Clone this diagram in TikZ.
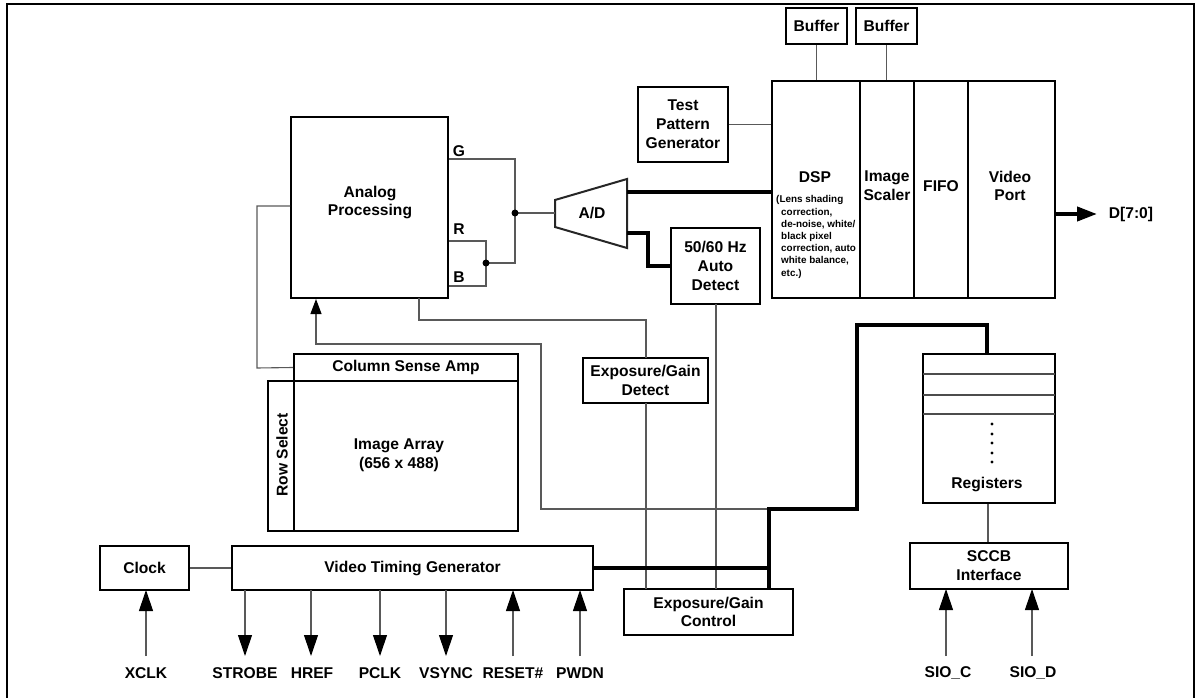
\documentclass[tikz,border=0pt]{standalone}
\usepackage{fontspec}
\setmainfont{Liberation Sans}
\usetikzlibrary{arrows.meta,calc}
\begin{document}
\begin{tikzpicture}[x=1pt,y=-1pt,
  font=\bfseries\fontsize{15.6}{18.8}\selectfont,
  box/.style={draw=black,line width=2pt,inner sep=0pt,align=center},
  lbl/.style={inner sep=0pt,align=center},
  wire/.style={draw=black!65,line width=1.1pt},
  bus/.style={draw=black,line width=4pt,line join=miter},
  tipbig/.style={-{Triangle[length=21pt,width=14pt,color=black]}},
  tipsmall/.style={-{Triangle[length=15pt,width=11pt,color=black]}},
]
\useasboundingbox (0,0) rectangle (1195,698);
\draw[line width=2pt] (7,720) -- (7,4) -- (1194,4) -- (1194,720);

% ---------- helper coordinates ----------
\coordinate (gy) at (0,159);
\coordinate (ry) at (0,241);
\coordinate (by) at (0,286);
\coordinate (ly) at (0,206);
\coordinate (jg) at (515,213);
\coordinate (jrb) at (486,263);
\coordinate (adin) at (555,213);
\coordinate (ado1) at (627,192);
\coordinate (ado2) at (627,233);
\coordinate (dtip) at (1097,214);

% ---------- Analog processing ----------
\node[box,minimum width=157pt,minimum height=181pt] (ap) at (369.5,207.5) {};
\node[lbl] (aptxt) at (370,202.5) {Analog\\Processing};
\node[lbl] (gl) at (459,151) {G};
\node[lbl] (rl) at (459,229) {R};
\node[lbl] (bl) at (459,277) {B};

% ---------- A/D ----------
\draw[line width=2pt,draw=black!85] (555,200) -- (627,179) -- (627,248) -- (555,227) -- cycle;
\node[lbl] (ad) at (592,213) {A/D};

% ---------- 50/60 Hz ----------
\node[box,minimum width=89pt,minimum height=76pt] (hz) at (715.5,266) {50/60 Hz\\Auto\\Detect};

% ---------- Buffers, TPG, DSP chain ----------
\node[box,minimum width=61pt,minimum height=36pt] (buf1) at (816.5,26) {Buffer};
\node[box,minimum width=61pt,minimum height=36pt] (buf2) at (886.5,26) {Buffer};
\node[box,minimum width=90pt,minimum height=75pt] (tpg) at (683,124.5) {Test\\Pattern\\Generator};

\node[box,minimum width=88pt,minimum height=217pt] (dsp) at (816,189.5) {};
\node[box,minimum width=54pt,minimum height=217pt] (scaler) at (887,189.5) {};
\node[box,minimum width=54pt,minimum height=217pt] (fifo) at (941,189.5) {};
\node[box,minimum width=87pt,minimum height=217pt] (vport) at (1011.5,189.5) {};
\node[lbl] (dsptxt) at (815,177) {DSP};
\node[lbl,align=left,anchor=north west,font=\bfseries\fontsize{9.9}{12.2}\selectfont] (dspsub) at (776,195.5)
  {(Lens shading\\\hspace*{5pt}correction,\\\hspace*{5pt}de-noise, white/\\\hspace*{5pt}black pixel\\\hspace*{5pt}correction, auto\\\hspace*{5pt}white balance,\\\hspace*{5pt}etc.)};
\node[lbl] (sctxt) at (887,186) {Image\\Scaler};
\node[lbl] (fitxt) at (941,186) {FIFO};
\node[lbl] (vptxt) at (1010,186) {Video\\Port};
\node[lbl] (dlab) at (1131,214) {D[7:0]};

% ---------- Image array ----------
\node[box,minimum width=224pt,minimum height=27pt] (csa) at (406,367.5) {Column Sense Amp};
\node[box,minimum width=224pt,minimum height=150pt] (ia) at (406,456) {};
\node[lbl] (iatxt) at (399,455) {Image Array\\(656 x 488)};
\node[box,minimum width=26pt,minimum height=150pt] (rs) at (281,456) {};
\node[lbl,rotate=90] (rstxt) at (282,455) {Row Select};

% ---------- Exposure ----------
\node[box,minimum width=125pt,minimum height=45pt] (egd) at (645.5,380.5) {Exposure/Gain\\Detect};
\node[box,minimum width=169pt,minimum height=46pt] (egc) at (708.5,612) {Exposure/Gain\\Control};

% ---------- Registers / SCCB ----------
\node[box,minimum width=132pt,minimum height=149pt] (reg) at (989,428.5) {};
\node[lbl] (regtxt) at (987,484) {Registers};
\node[box,minimum width=158pt,minimum height=46pt] (sccb) at (989,566) {SCCB\\Interface};

% ---------- Clock / VTG ----------
\node[box,minimum width=89pt,minimum height=44pt] (clk) at (144.5,568) {Clock};
\node[box,minimum width=361pt,minimum height=44pt] (vtg) at (412.5,568) {Video Timing Generator};

% ---------- bottom labels ----------
\node[lbl] (xclk) at (146,673) {XCLK};
\node[lbl] (strobe) at (245,673) {STROBE};
\node[lbl] (href) at (312,673) {HREF};
\node[lbl] (pclk) at (380,673) {PCLK};
\node[lbl] (vsync) at (446,673) {VSYNC};
\node[lbl] (reset) at (513,673) {RESET\#};
\node[lbl] (pwdn) at (580,673) {PWDN};
\node[lbl] (sioc) at (948,673) {SIO\_C};
\node[lbl] (siod) at (1033,673) {SIO\_D};

% ---------- thin wires ----------
\draw[wire] (ap.east |- gy) -- (515,159) -- (515,263) -- (jrb);
\draw[wire] (ap.east |- ry) -- (486,241) -- (486,286) -- (ap.east |- by);
\draw[wire] (jg) -- (adin);
\fill (jg) circle (3.5pt);
\fill (jrb) circle (3.5pt);

\draw[wire] (tpg.east) -- (dsp.west |- tpg.east);
\draw[wire] (buf1.south) -- (buf1.south |- dsp.north);
\draw[wire] (buf2.south) -- (buf2.south |- scaler.north);

\draw[wire] (ap.west |- ly) -- (257,206) -- (257,368) -- (csa.west);
\draw[wire,tipsmall] (769,509) -- (541,509) -- (541,344) -- (316,344) -- (ap.south -| 316,0);
\draw[wire] (419,298) -- (419,320) -- (646,320) -- (646,358);
\draw[wire] (646,403) -- (646,589);
\draw[wire] (716,304) -- (716,589);

\draw[wire] (reg.south -| 988,0) -- (sccb.north -| 988,0);
\draw[wire] (clk.east) -- (vtg.west);

\draw[wire,tipbig] (146,656) -- (146,590);
\foreach \xx in {245,311,380,446}{
  \draw[wire,tipbig] (\xx,590) -- (\xx,656);
}
\draw[wire,tipbig] (513,656) -- (513,590);
\draw[wire,tipbig] (580,656) -- (580,590);
\draw[wire,tipbig] (946,656) -- (946,589);
\draw[wire,tipbig] (1032,656) -- (1032,589);

% ---------- registers interior ----------
\foreach \yy in {374,395,414}{
  \draw[draw=black!70,line width=1.4pt] (923,\yy) -- (1055,\yy);
}
\foreach \yy in {424,434,443,453,462}{
  \fill (992,\yy) circle (1.6pt);
}

% ---------- buses ----------
\draw[bus] (ado1) -- (dsp.west |- ado1);
\draw[bus] (ado2) -- (648,233) -- (648,266) -- (hz.west);
\draw[bus] (vtg.east) -- (769,568);
\draw[bus] (769,589) -- (769,509) -- (857,509) -- (857,325) -- (987,325) -- (987,354);
\draw[line width=4pt,-{Triangle[length=20pt,width=14pt]}] (vport.east |- dtip) -- (dtip);
\end{tikzpicture}
\end{document}
